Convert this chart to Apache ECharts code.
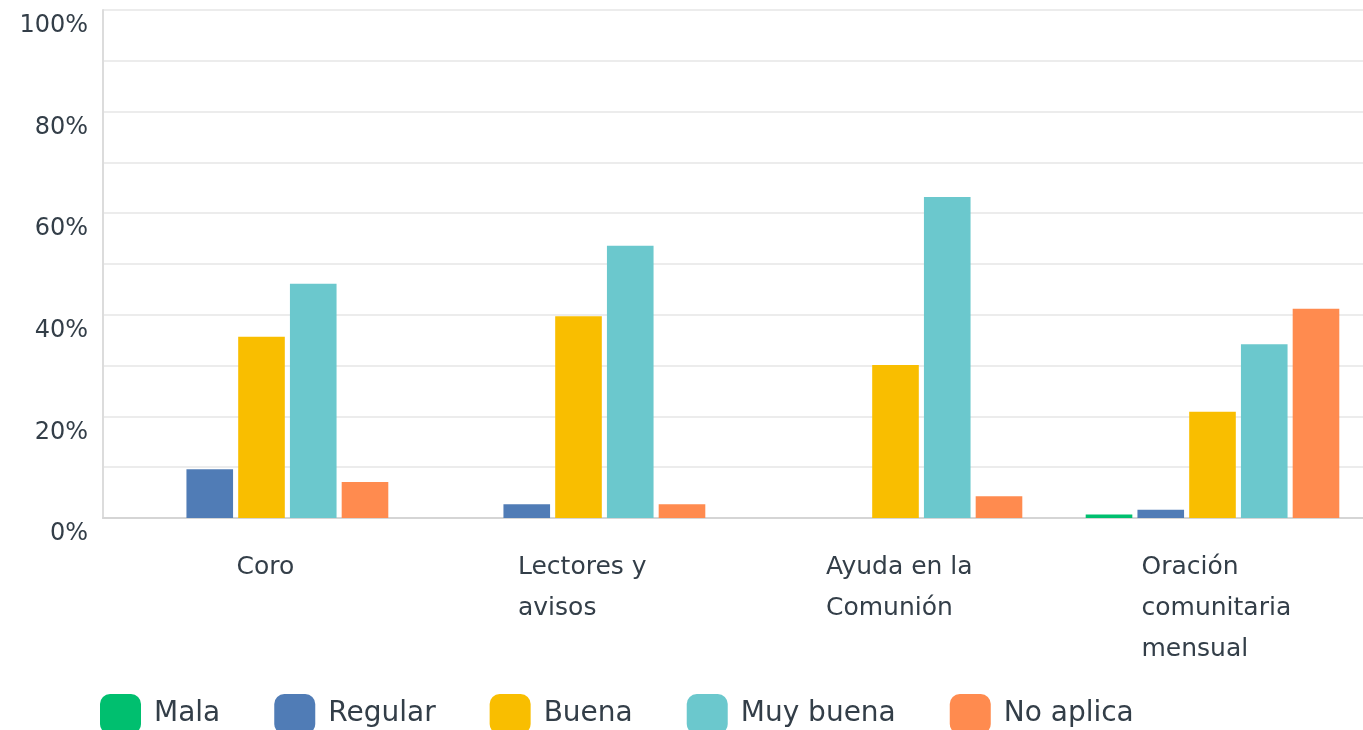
<!DOCTYPE html>
<html>
<head>
<meta charset="utf-8">
<script src="https://cdn.jsdelivr.net/npm/echarts@6/dist/echarts.min.js"></script>
<style>
  html, body { margin: 0; padding: 0; background: #fff; overflow: hidden; }
  #main { width: 1375px; height: 730px; }
</style>
</head>
<body>
<div id="main"></div>
<script>
// categorias y valores (%)
var categories = ['Coro', 'Lectores y\navisos', 'Ayuda en la\nComunión', 'Oración\ncomunitaria\nmensual'];
var seriesNames = ['Mala', 'Regular', 'Buena', 'Muy buena', 'No aplica'];
var mala = [0, 0, 0, 0.7];
var regular = [9.6, 2.7, 0, 1.6];
var buena = [35.7, 39.7, 30.1, 20.9];
var muyBuena = [46.1, 53.6, 63.2, 34.2];
var noAplica = [7.1, 2.7, 4.3, 41.2];
var yTicks = [0, 20, 40, 60, 80, 100];

var colors = ['#00bf6f', '#507cb6', '#f9be00', '#6bc8cd', '#ff8b4f'];
var values = [mala, regular, buena, muyBuena, noAplica];
var font = 'DejaVu Sans';
var textColor = '#333e48';
var labelSize = 25;

// ancho de la linea mas larga, para alinear a la izquierda cada etiqueta
var ctx = document.createElement('canvas').getContext('2d');
ctx.font = labelSize + 'px "' + font + '"';
var rich = {};
categories.forEach(function (c, i) {
  var w = Math.max.apply(null, c.split('\n').map(function (l) { return ctx.measureText(l).width; }));
  rich['c' + i] = {
    width: Math.ceil(w), align: 'left', fontFamily: font, fontSize: labelSize,
    color: textColor, lineHeight: 41, padding: [0, 0, 0, 8]
  };
});

var myChart = echarts.init(document.getElementById('main'));

var series = seriesNames.map(function (name, i) {
  return {
    name: name,
    type: 'bar',
    data: values[i],
    barGap: '11%',
    barCategoryGap: '20%',
    itemStyle: { color: colors[i] }
  };
});

var option = {
  animation: false,
  color: colors,
  grid: { left: 103, right: 4, top: 10, bottom: 212, containLabel: false },
  legend: {
    data: seriesNames,
    left: 95,
    top: 689,
    icon: 'roundRect',
    itemWidth: 41,
    itemHeight: 40,
    itemGap: 54,
    textStyle: { fontFamily: font, fontSize: 28, color: textColor, padding: [0, 0, 0, 8] }
  },
  xAxis: {
    type: 'category',
    data: categories,
    axisLine: { lineStyle: { color: '#d5d5d5', width: 2 } },
    axisTick: { show: false },
    axisLabel: {
      interval: 0,
      margin: 29,
      verticalAlign: 'top',
      fontFamily: font,
      fontSize: labelSize,
      color: textColor,
      lineHeight: 41,
      formatter: function (v, idx) {
        return v.split('\n').map(function (l) { return '{c' + idx + '|' + l + '}'; }).join('\n');
      },
      rich: rich
    }
  },
  yAxis: {
    type: 'value',
    min: 0,
    max: 100,
    interval: 10,
    axisLine: { show: true, lineStyle: { color: '#dcdcdc', width: 2 } },
    axisTick: { show: false },
    splitLine: { lineStyle: { color: '#ececec', width: 2 } },
    axisLabel: {
      margin: 15,
      fontFamily: font,
      fontSize: 24,
      color: textColor,
      verticalAlign: 'top',
      lineHeight: 32,
      formatter: function (v) {
        return yTicks.indexOf(v) >= 0 ? v + '%' : '';
      }
    }
  },
  series: series
};

myChart.setOption(option);
</script>
</body>
</html>
